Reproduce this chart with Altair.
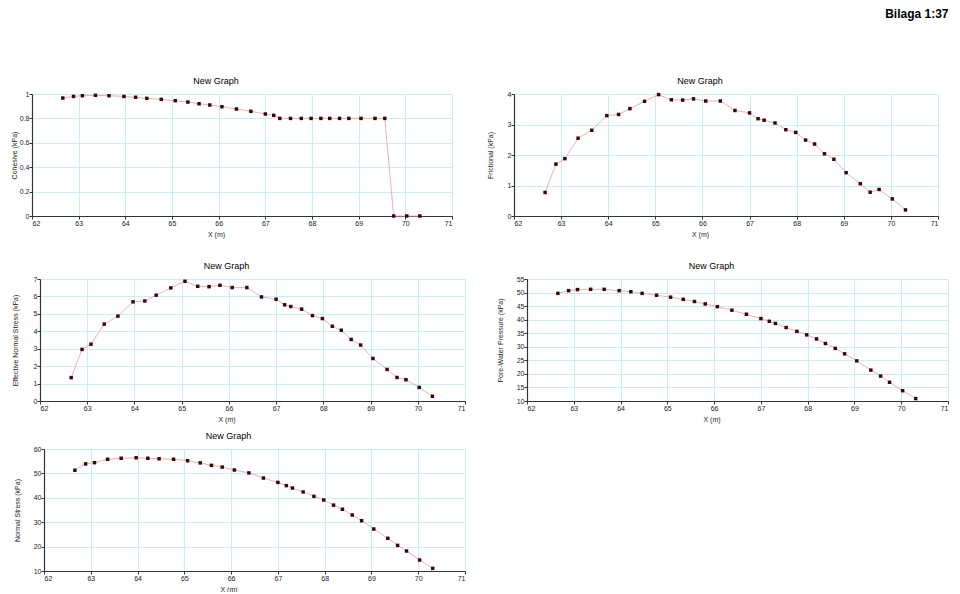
import altair as alt
import pandas as pd

# Slice x positions (m)
x_m = [62.66, 62.89, 63.08, 63.36, 63.65, 63.97, 64.22, 64.46, 64.77, 65.07,
       65.34, 65.58, 65.81, 66.07, 66.38, 66.69, 67.00, 67.18, 67.31, 67.54,
       67.77, 67.98, 68.19, 68.38, 68.59, 68.79, 69.05, 69.35, 69.56, 69.75,
       70.03, 70.31]

cohesive = [0.967, 0.980, 0.986, 0.989, 0.986, 0.980, 0.973, 0.964, 0.956, 0.945,
            0.934, 0.920, 0.910, 0.896, 0.877, 0.858, 0.836, 0.825, 0.80, 0.80,
            0.80, 0.80, 0.80, 0.80, 0.80, 0.80, 0.80, 0.80, 0.80, 0.0,
            0.0, 0.0]

frictional = [0.77, 1.70, 1.88, 2.55, 2.81, 3.29, 3.33, 3.52, 3.76, 3.98,
              3.81, 3.80, 3.84, 3.77, 3.77, 3.46, 3.38, 3.19, 3.14, 3.05,
              2.83, 2.74, 2.49, 2.36, 2.04, 1.86, 1.42, 1.06, 0.78, 0.87,
              0.56, 0.20]

eff_normal = [1.34, 2.96, 3.26, 4.41, 4.87, 5.69, 5.74, 6.07, 6.49, 6.87,
              6.58, 6.56, 6.64, 6.51, 6.51, 5.97, 5.84, 5.52, 5.42, 5.27,
              4.90, 4.73, 4.29, 4.06, 3.53, 3.21, 2.44, 1.81, 1.35, 1.22,
              0.78, 0.27]

pore_water = [49.7, 50.7, 51.1, 51.2, 51.2, 50.7, 50.3, 49.7, 49.0, 48.3,
              47.5, 46.7, 45.8, 44.8, 43.5, 42.0, 40.4, 39.4, 38.6, 37.1,
              35.7, 34.4, 32.9, 31.2, 29.4, 27.4, 24.8, 21.4, 19.2, 16.9,
              13.8, 10.9]

normal = [51.3, 53.9, 54.4, 55.8, 56.2, 56.4, 56.2, 56.0, 55.8, 55.2,
          54.3, 53.3, 52.6, 51.4, 50.2, 48.1, 46.3, 45.0, 44.0, 42.4,
          40.6, 39.1, 37.0, 35.3, 32.95, 30.6, 27.2, 23.4, 20.5, 18.2,
          14.5, 11.1]

x_ticks = [62, 63, 64, 65, 66, 67, 68, 69, 70, 71]

df = pd.DataFrame({
    "x": x_m,
    "cohesive": cohesive,
    "frictional": frictional,
    "eff_normal": eff_normal,
    "pore_water": pore_water,
    "normal": normal,
})

LINE_COLOR = "#e6b3b3"
PT_COLOR = "#3a0606"
FONT = "Liberation Sans"


def panel(col, ytitle, ydomain, yticks, width, tpad):
    base = alt.Chart(df)
    x = alt.X("x:Q",
              scale=alt.Scale(domain=[62, 71], nice=False, zero=False),
              axis=alt.Axis(values=x_ticks, title="X (m)", format="d",
                            titleX=width / 2 - 26, titleAlign="center"))
    y = alt.Y(f"{col}:Q",
              scale=alt.Scale(domain=ydomain, nice=False, zero=False),
              axis=alt.Axis(values=yticks, title=ytitle, format="~r",
                            titlePadding=tpad, minExtent=14, maxExtent=14))
    line = base.mark_line(color=LINE_COLOR, strokeWidth=1).encode(x=x, y=y)
    pts = base.mark_square(size=12, color=PT_COLOR, opacity=1).encode(x=x, y=y)
    return alt.layer(line, pts).properties(
        width=width, height=122,
        title=alt.TitleParams("New Graph", fontSize=9, fontWeight="normal",
                              font=FONT, color="black", offset=4, dx=-26))


def spacer(w):
    return alt.Chart(pd.DataFrame({"s": [0]})).mark_point(size=1, opacity=0).encode(
        x=alt.value(0), y=alt.value(0)).properties(width=w, height=1)


p1 = panel("cohesive", "Cohesive (kPa)", [0, 1], [0, 0.2, 0.4, 0.6, 0.8, 1], 420, 1)
p2 = panel("frictional", "Frictional (kPa)", [0, 4], [0, 1, 2, 3, 4], 424, 7)
p3 = panel("eff_normal", "Effective Normal Stress (kPa)", [0, 7], [0, 1, 2, 3, 4, 5, 6, 7], 425, 8)
p4 = panel("pore_water", "Pore-Water Pressure (kPa)", [10, 55],
           [10, 15, 20, 25, 30, 35, 40, 45, 50, 55], 421, 10)
p5 = panel("normal", "Normal Stress (kPa)", [10, 60], [10, 20, 30, 40, 50, 60], 421, 10)

row1 = alt.hconcat(spacer(1), p1, spacer(32), p2, spacing=0)
row2 = alt.hconcat(spacer(2), p3, spacer(29), p4, spacing=0)
row3 = alt.hconcat(spacer(4), p5, spacing=0)

top = alt.vconcat(row1, row2, spacing=25)

chart = alt.vconcat(top, row3, spacing=10).properties(
    padding=0,
    title=alt.TitleParams("Bilaga 1:37", anchor="end", fontSize=12, fontWeight="bold",
                          font=FONT, color="black", offset=56),
).configure_view(stroke=None).configure_axis(
    grid=True, gridColor="#c9eef0", gridWidth=1,
    domainColor="#333333", domainWidth=1.2,
    tickColor="#333333", tickSize=3, tickWidth=1,
    labelFont=FONT, labelFontSize=7, labelColor="#222222", labelPadding=0,
    titleFont=FONT, titleFontSize=7, titleFontWeight="normal", titleColor="#222222",
).configure_axisX(titlePadding=4)

chart.save("out.html", embed_options={"renderer": "svg", "actions": False})
